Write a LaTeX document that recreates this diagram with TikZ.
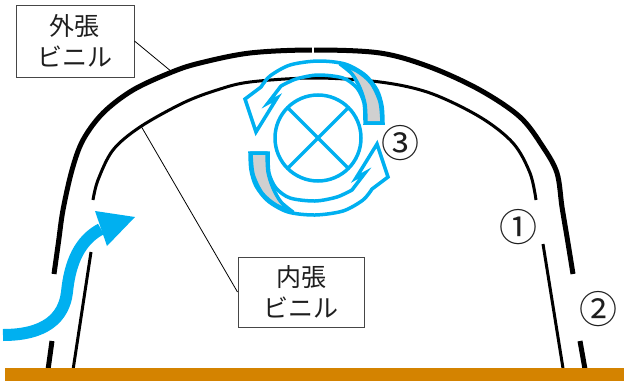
\documentclass[tikz,border=0pt]{standalone}
\usepackage{fontspec}
\newfontfamily\jpfont{Noto Sans CJK JP}
\usetikzlibrary{calc}
\definecolor{skyblue}{RGB}{0,176,240}
\definecolor{soil}{RGB}{212,131,0}
\definecolor{ribbongray}{RGB}{208,208,208}
\definecolor{boxgray}{RGB}{70,70,70}
\definecolor{inktext}{RGB}{30,30,30}

\begin{document}
\begin{tikzpicture}[x=1pt,y=-1pt,
  outerfilm/.style={line width=5pt},
  innerfilm/.style={line width=3pt},
  leader/.style={line width=0.8pt},
  labelbox/.style={draw=boxgray, line width=1pt, fill=white, align=center, text=inktext,
    font=\jpfont\fontsize{25}{31}\selectfont, inner sep=0pt},
  circnum/.style={font=\jpfont\fontsize{38}{38}\selectfont, inner sep=0pt, text=inktext},
  fanline/.style={draw=skyblue, line width=3.5pt},
  ribbon/.style={draw=skyblue, line width=3.5pt, line join=miter},
]
\useasboundingbox (0,0) rectangle (624,383);

% greenhouse films: outer film (thick) and inner film (thin)
\draw[outerfilm] plot[smooth, tension=0.55] coordinates {(54,274) (58.5,242) (63,210) (72,170) (83,140) (103,113) (133,90) (172,72) (200,63) (250,53) (313,50) (380,53) (430,67) (480,90) (520,117) (543,147) (557,173) (562,207) (567.5,240) (573,274)};
\draw[outerfilm] (47.7,372) -- (52,341);
\draw[outerfilm] (580,341) -- (585.5,372);
\draw[white, line width=1.5pt] (313,44) -- (313,56);

\draw[innerfilm] plot[smooth, tension=0.55] coordinates {(93,200) (98,180) (113,150) (140,127) (183,103) (217,90) (250,82) (314,78) (380,82) (430,93) (480,117) (513,143) (530,173) (536,200)};
\draw[innerfilm] (72.7,372) -- (91,252);
\draw[innerfilm] (543,244) -- (563.6,372);

% ground
\fill[soil] (5,368) rectangle (624,381);

% labels with leader lines
\node[labelbox, minimum width=118pt, minimum height=72pt] (outerlabel) at (75,41) {外張\\ビニル};
\node[labelbox, minimum width=126pt, minimum height=70pt] (innerlabel) at (301,292) {内張\\ビニル};
\coordinate (outertouch) at (172,72);
\coordinate (innertouch) at (141,126);
\draw[leader] (outerlabel.east) -- (outertouch);
\draw[leader] (innertouch) -- (innerlabel.west);

% circulation fan
\coordinate (fanc) at (318,138);
\node[circle, draw=skyblue, line width=3.5pt, minimum size=86pt, inner sep=0pt, outer sep=0pt] (fan) at (fanc) {};
\draw[fanline] (fan.45) -- (fan.225);
\draw[fanline] (fan.135) -- (fan.315);

% circulating ribbon arrows around the fan
\foreach \rot in {0,180} {
  \begin{scope}[rotate around={\rot:(316.5,138)}]
    \filldraw[ribbongray, draw=skyblue, line width=3.5pt, line join=round]
      (366,123) -- (382,123)
      -- plot[smooth] coordinates {(382,123) (380,102) (371,83) (357,71) (340,64)}
      -- plot[smooth] coordinates {(340,64) (352,74) (360,88) (365,104) (366,123)} -- cycle;
    \draw[ribbon] (383,123) -- (365,123)
      -- plot[smooth] coordinates {(365,123) (364,103) (357,88) (343,78) (318,75) (296,79) (281,86)}
      -- (268,103) -- (277,98) -- (256,132) -- (245,99) -- (261,87)
      -- plot[smooth] coordinates {(261,87) (270,76) (290,65) (318,61) (345,64) (365,75) (377,90) (382,106) (383,123)} -- cycle;
  \end{scope}
}

% incoming air flow
\coordinate (windin) at (3,335);
\coordinate (windend) at (101,229);
\draw[skyblue, line width=12pt] (windin) .. controls (45,335) and (64,318) .. (67,292)
  .. controls (70,262) and (80,240) .. (windend);
\fill[skyblue] (95,211) -- (135,217) -- (107,246) -- cycle;

% position marks
\node[circnum] (mark1) at (518,227) {①};
\node[circnum] (mark2) at (598,309) {②};
\node[circnum] (mark3) at (400,143) {③};
\end{tikzpicture}
\end{document}
